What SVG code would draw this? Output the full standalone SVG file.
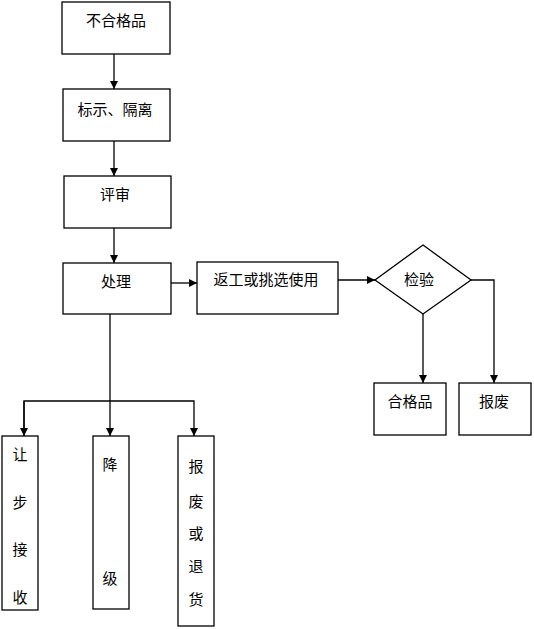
<svg xmlns="http://www.w3.org/2000/svg" width="534" height="629" viewBox="0 0 534 629">
<style>
.box{fill:#fff;stroke:#000;stroke-width:1.3}
.t{font-family:"Noto Sans CJK SC","Noto Sans CJK JP",sans-serif;font-size:15px;fill:#000;text-anchor:middle;dominant-baseline:central}
.c{fill:none;stroke:#000;stroke-width:1.3}
</style>
<defs>
<marker id="ah" viewBox="0 0 10 10" refX="10" refY="5" markerWidth="8" markerHeight="8" markerUnits="userSpaceOnUse" orient="auto">
<path d="M0,0 L10,5 L0,10 Z" fill="#000"/>
</marker>
</defs>
<rect width="534" height="629" fill="#fff"/>
<g id="connectors">
<line class="c" x1="114" y1="54" x2="114" y2="89" marker-end="url(#ah)"/>
<line class="c" x1="114" y1="141" x2="114" y2="176" marker-end="url(#ah)"/>
<line class="c" x1="114" y1="228" x2="114" y2="263" marker-end="url(#ah)"/>
<line class="c" x1="171" y1="283" x2="197" y2="283" marker-end="url(#ah)"/>
<line class="c" x1="338" y1="280" x2="375" y2="280" marker-end="url(#ah)"/>
<line class="c" x1="423" y1="314" x2="423" y2="383" marker-end="url(#ah)"/>
<polyline class="c" points="471,280 494,280 494,383" marker-end="url(#ah)"/>
<line class="c" x1="110" y1="314" x2="110" y2="401"/>
<polyline class="c" points="24,436 24,401 194,401 194,436" marker-end="url(#ah)"/>
<line class="c" x1="110" y1="401" x2="110" y2="436" marker-end="url(#ah)"/>
<line class="c" x1="24" y1="401" x2="24" y2="436" marker-end="url(#ah)"/>
</g>
<g id="n1"><rect class="box" x="62" y="2" width="108" height="52"/><text class="t" x="116" y="19">不合格品</text></g>
<g id="n2"><rect class="box" x="63" y="89" width="107" height="52"/><text class="t" x="115" y="108">标示、隔离</text></g>
<g id="n3"><rect class="box" x="64" y="176" width="107" height="52"/><text class="t" x="115" y="193">评审</text></g>
<g id="n4"><rect class="box" x="63" y="263" width="108" height="51"/><text class="t" x="116" y="280">处理</text></g>
<g id="n5"><rect class="box" x="197" y="262" width="141" height="52"/><text class="t" x="266" y="278">返工或挑选使用</text></g>
<g id="n6"><polygon class="box" points="423,245 471,280 423,314 375,280"/><text class="t" x="419" y="278">检验</text></g>
<g id="n7"><rect class="box" x="374" y="383" width="72" height="52"/><text class="t" x="410" y="400">合格品</text></g>
<g id="n8"><rect class="box" x="459" y="383" width="72" height="52"/><text class="t" x="494" y="400">报废</text></g>
<g id="n9"><rect class="box" x="2" y="436" width="36" height="174"/>
<text class="t" x="20" y="453">让</text><text class="t" x="20" y="501">步</text><text class="t" x="20" y="548">接</text><text class="t" x="20" y="596">收</text></g>
<g id="n10"><rect class="box" x="93" y="436" width="36" height="173"/>
<text class="t" x="110" y="463">降</text><text class="t" x="110" y="577">级</text></g>
<g id="n11"><rect class="box" x="178" y="436" width="36" height="190"/>
<text class="t" x="196" y="465">报</text><text class="t" x="196" y="500">废</text><text class="t" x="196" y="532">或</text><text class="t" x="196" y="565">退</text><text class="t" x="196" y="598">货</text></g>
</svg>
